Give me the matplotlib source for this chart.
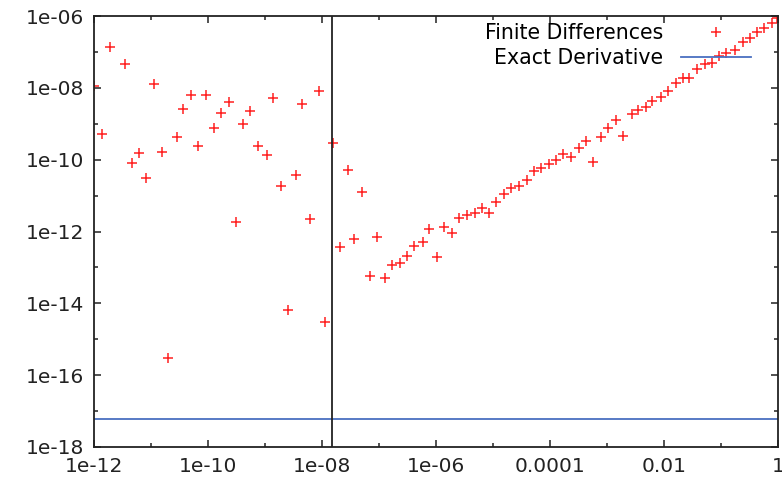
"""Finite-difference error vs step size h, log-log, gnuplot-style look."""
import matplotlib
matplotlib.use("Agg")
import matplotlib.pyplot as plt
import numpy as np
from matplotlib.ticker import FixedLocator, NullFormatter

# log10 of step size h
h_log10 = [
    -12.00, -11.86, -11.72, -11.46, -11.34, -11.21, -11.08, -10.95, -10.80, -10.70,
    -10.55, -10.43, -10.29, -10.17, -10.04, -9.89, -9.77, -9.63, -9.51, -9.38,
    -9.26, -9.12, -8.97, -8.86, -8.72, -8.60, -8.46, -8.35, -8.21, -8.06,
    -7.94, -7.80, -7.68, -7.55, -7.43, -7.29, -7.15, -7.03, -6.89, -6.78,
    -6.63, -6.51, -6.38, -6.23, -6.12, -5.98, -5.86, -5.72, -5.60, -5.46,
    -5.32, -5.20, -5.07, -4.94, -4.80, -4.68, -4.54, -4.40, -4.28, -4.15,
    -4.02, -3.89, -3.77, -3.63, -3.49, -3.37, -3.24, -3.11, -2.98, -2.85,
    -2.72, -2.56, -2.46, -2.32, -2.21, -2.05, -1.93, -1.79, -1.67, -1.56,
    -1.42, -1.28, -1.16, -1.04, -0.91, -0.75, -0.61, -0.49, -0.37, -0.25,
    -0.11, -0.02,
]
# log10 of absolute error of the finite-difference derivative
err_log10 = [
    -7.95, -9.29, -6.85, -7.34, -10.10, -9.81, -10.52, -7.89, -9.78, -15.53,
    -9.36, -8.59, -8.20, -9.62, -8.20, -9.13, -8.69, -8.39, -11.74, -9.02,
    -8.64, -9.62, -9.88, -8.29, -10.73, -14.19, -10.43, -8.46, -11.66, -8.09,
    -14.53, -9.54, -12.44, -10.29, -12.22, -10.89, -13.23, -12.14, -13.29, -12.93,
    -12.88, -12.67, -12.40, -12.28, -11.93, -12.71, -11.87, -12.05, -11.62, -11.54,
    -11.48, -11.35, -11.48, -11.19, -10.96, -10.80, -10.73, -10.57, -10.32, -10.24,
    -10.13, -10.02, -9.84, -9.92, -9.68, -9.47, -10.06, -9.36, -9.11, -8.90,
    -9.34, -8.73, -8.62, -8.53, -8.36, -8.25, -8.09, -7.87, -7.73, -7.73,
    -7.48, -7.34, -7.30, -7.11, -7.04, -6.95, -6.72, -6.62, -6.44, -6.34,
    -6.20, -6.06,
]
exact_err = 6.1e-18      # horizontal "Exact Derivative" level
h_opt = 1.49e-8          # vertical reference line (sqrt of machine eps)

x_ticks = [1e-12, 1e-10, 1e-8, 1e-6, 1e-4, 1e-2, 1]
x_labels = ["1e-12", "1e-10", "1e-08", "1e-06", "0.0001", "0.01", "1"]
y_ticks = [1e-18, 1e-16, 1e-14, 1e-12, 1e-10, 1e-8, 1e-6]
y_labels = ["1e-18", "1e-16", "1e-14", "1e-12", "1e-10", "1e-08", "1e-06"]


def main() -> None:
    plt.rcParams["font.family"] = ["DejaVu Sans"]
    fig = plt.figure(figsize=(7.82, 4.84), dpi=100)
    ax = fig.add_axes([94 / 782, 37 / 484, 684 / 782, 431 / 484])

    h = np.power(10.0, h_log10)
    err = np.power(10.0, err_log10)

    ax.plot(h, err, linestyle="none", marker="+", markersize=6.6, mew=1.1,
            color="#ff2020", label="Finite Differences")
    ax.axhline(exact_err, color="#4a6fc0", linewidth=1.3, label="Exact Derivative")
    ax.axvline(h_opt, color="#222222", linewidth=1.3)

    ax.set_xscale("log")
    ax.set_yscale("log")
    ax.set_xlim(1e-12, 1)
    ax.set_ylim(1e-18, 1e-6)

    ax.xaxis.set_major_locator(FixedLocator(x_ticks))
    ax.set_xticklabels(x_labels)
    ax.xaxis.set_minor_locator(FixedLocator([10.0 ** k for k in range(-11, 0, 2)]))
    ax.xaxis.set_minor_formatter(NullFormatter())
    ax.yaxis.set_major_locator(FixedLocator(y_ticks))
    ax.set_yticklabels(y_labels)
    ax.yaxis.set_minor_locator(FixedLocator([10.0 ** k for k in range(-17, -6, 2)]))
    ax.yaxis.set_minor_formatter(NullFormatter())

    ax.tick_params(which="both", direction="in", top=True, right=True,
                   colors="#222222", labelcolor="#222222", labelsize=14.5)
    ax.tick_params(which="major", length=5, width=1.1, pad=7)
    ax.tick_params(which="minor", length=3, width=1.1)
    for s in ax.spines.values():
        s.set_color("#222222")
        s.set_linewidth(1.3)

    ax.legend(loc="upper right", bbox_to_anchor=(0.961, 0.983), frameon=False,
              markerfirst=False, fontsize=14.8, handlelength=3.4,
              handletextpad=0.9, labelspacing=0.25, borderpad=0.0,
              borderaxespad=0.0)

    fig.savefig("out.png", dpi=100)
    plt.close(fig)


if __name__ == "__main__":
    main()
